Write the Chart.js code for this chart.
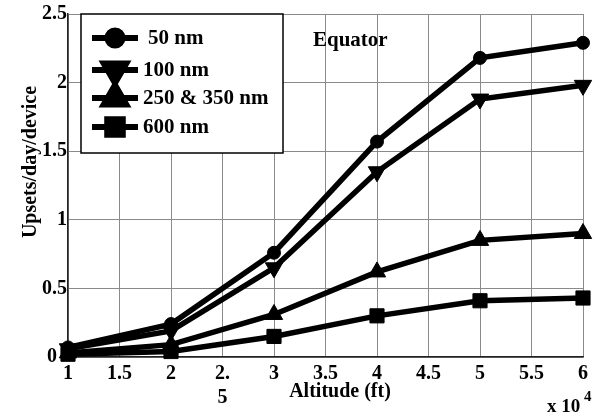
<!DOCTYPE html>
<html>
<head>
  <title>Upsets vs altitude</title>
  <script src="https://cdn.jsdelivr.net/npm/chart.js"></script>
  <style>
    body { margin: 0; padding: 0; background: #fff; }
    #wrap { width: 603px; height: 415px; position: relative; }
  </style>
</head>
<body>
  <div id="wrap"><canvas id="upsetChart"></canvas></div>
  <script>
    // altitude in units of 10^4 ft
    const altitudes = [1, 2, 3, 4, 5, 6];
    const nm50 = [0.07, 0.24, 0.76, 1.57, 2.18, 2.29];
    const nm100 = [0.06, 0.19, 0.65, 1.35, 1.88, 1.98];
    const nm250 = [0.03, 0.09, 0.31, 0.62, 0.85, 0.90];
    const nm600 = [0.02, 0.04, 0.15, 0.30, 0.41, 0.43];
    const seriesNames = ['50 nm', '100 nm', '250 & 350 nm', '600 nm'];

    const serif = '"Liberation Serif", "Times New Roman", serif';
    const markers = [
      { pointStyle: 'circle', radius: 6.5, rotation: 0 },
      { pointStyle: 'triangle', radius: 10, rotation: 180 },
      { pointStyle: 'triangle', radius: 10, rotation: 0 },
      { pointStyle: 'rect', radius: 10, rotation: 0 }
    ];

    const toPts = arr => arr.map((v, i) => ({ x: altitudes[i], y: v }));

    const datasets = [nm50, nm100, nm250, nm600].map((arr, i) => ({
      label: seriesNames[i],
      data: toPts(arr),
      borderColor: '#000',
      backgroundColor: '#000',
      borderWidth: 5.5,
      pointStyle: markers[i].pointStyle,
      pointRadius: markers[i].radius,
      pointRotation: markers[i].rotation,
      pointBorderWidth: 1,
      pointBackgroundColor: '#000',
      tension: 0,
      clip: false
    }));

    // legend box drawn in the upper left of the plot, plus free texts
    const extras = {
      id: 'extras',
      afterDatasetsDraw(chart) {
        const ctx = chart.ctx;
        ctx.save();
        // legend
        ctx.fillStyle = '#fff';
        ctx.fillRect(81, 14, 202, 139);
        ctx.strokeStyle = '#000';
        ctx.lineWidth = 1.5;
        ctx.strokeRect(81, 14, 202, 139);
        const rowY = [38, 70, 98, 127];
        const textX = [148, 143, 143, 143];
        seriesNames.forEach((name, i) => {
          ctx.beginPath();
          ctx.strokeStyle = '#000';
          ctx.lineWidth = 6;
          ctx.moveTo(92, rowY[i]);
          ctx.lineTo(138, rowY[i]);
          ctx.stroke();
          ctx.fillStyle = '#000';
          Chart.helpers.drawPoint(ctx, {
            pointStyle: markers[i].pointStyle,
            radius: i === 0 ? 7.5 : (i === 3 ? 11 : 13),
            rotation: markers[i].rotation,
            borderWidth: 1
          }, 115, rowY[i]);
          ctx.fillStyle = '#000';
          ctx.font = 'bold 21px ' + serif;
          ctx.textAlign = 'left';
          ctx.textBaseline = 'middle';
          ctx.fillText(name, textX[i], rowY[i] + 1);
        });

        ctx.fillStyle = '#000';
        ctx.font = 'bold 21px ' + serif;
        ctx.textBaseline = 'middle';
        ctx.textAlign = 'left';
        ctx.fillText('Equator', 313, 41);

        ctx.font = 'bold 20px ' + serif;
        ctx.textAlign = 'center';
        ctx.fillText('Altitude (ft)', 340, 392);

        ctx.textAlign = 'left';
        ctx.font = 'bold 19px ' + serif;
        ctx.fillText('x 10', 547, 407);
        ctx.font = 'bold 15px ' + serif;
        ctx.fillText('4', 584, 397);

        ctx.translate(31, 162);
        ctx.rotate(-Math.PI / 2);
        ctx.textAlign = 'center';
        ctx.font = 'bold 20px ' + serif;
        ctx.fillText('Upsets/day/device', 0, 0);
        ctx.restore();
      }
    };

    new Chart(document.getElementById('upsetChart'), {
      type: 'line',
      data: { datasets: datasets },
      options: {
        responsive: true,
        maintainAspectRatio: false,
        animation: false,
        layout: { padding: { top: 14, right: 20, left: 0, bottom: 0 } },
        plugins: {
          legend: { display: false },
          tooltip: { enabled: false }
        },
        scales: {
          x: {
            type: 'linear',
            min: 1,
            max: 6,
            afterFit: s => { s.height = 58; },
            grid: { color: '#8a8a8a', lineWidth: 1, drawTicks: false },
            border: { color: '#222', width: 1.5 },
            ticks: {
              stepSize: 0.5,
              padding: 5,
              color: '#000',
              font: { family: serif, size: 20, weight: 'bold', lineHeight: 1.2 },
              maxRotation: 0,
              autoSkip: false,
              callback: v => (v === 2.5 ? ['2.', '5'] : String(v))
            }
          },
          y: {
            min: 0,
            max: 2.5,
            afterFit: s => { s.width = 68; },
            grid: { color: '#8a8a8a', lineWidth: 1, drawTicks: false },
            border: { color: '#222', width: 1.5 },
            ticks: {
              stepSize: 0.5,
              padding: 1,
              color: '#000',
              font: { family: serif, size: 20, weight: 'bold' },
              // the 0 sits a little left so the markers at x=1 do not hide it
              callback: v => (v === 0 ? '0  ' : String(v))
            }
          }
        }
      },
      plugins: [extras]
    });
  </script>
</body>
</html>
